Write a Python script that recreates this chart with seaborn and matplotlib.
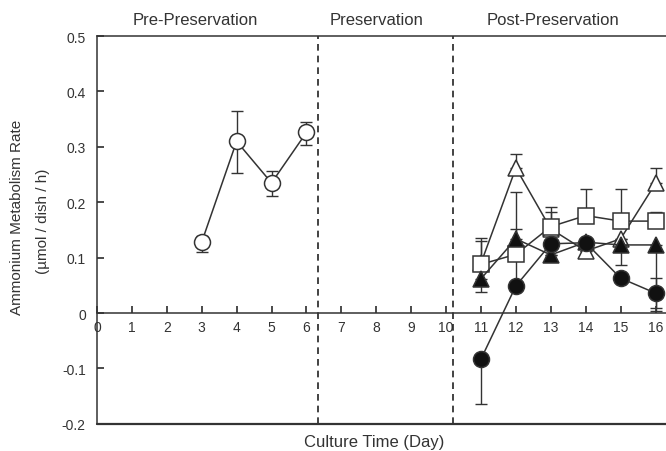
import matplotlib
matplotlib.use("Agg")
import matplotlib.pyplot as plt
import matplotlib.ticker as mticker
import pandas as pd
import seaborn as sns

# Pre-preservation culture (open circles)
pre_days = [3, 4, 5, 6]
pre_rate = [0.128, 0.310, 0.235, 0.326]
pre_err_lo = [0.018, 0.057, 0.024, 0.022]
pre_err_hi = [0.012, 0.055, 0.022, 0.018]

# Post-preservation culture, four groups
post_days = [11, 12, 13, 14, 15, 16]
open_tri = [0.090, 0.262, 0.152, 0.112, 0.134, 0.234]
open_tri_lo = [0, 0, 0, 0, 0, 0]
open_tri_hi = [0.040, 0.025, 0.030, 0, 0, 0.028]

open_sq = [0.088, 0.106, 0.156, 0.176, 0.166, 0.166]
open_sq_lo = [0, 0.055, 0, 0, 0, 0]
open_sq_hi = [0.048, 0.112, 0.036, 0.048, 0.058, 0.016]

filled_tri = [0.062, 0.134, 0.105, 0.128, 0.123, 0.123]
filled_tri_lo = [0.024, 0, 0, 0, 0.036, 0.114]
filled_tri_hi = [0, 0.018, 0, 0, 0, 0]

filled_circ = [-0.083, 0.049, 0.125, 0.127, 0.063, 0.036]
filled_circ_lo = [0.081, 0, 0, 0, 0, 0.032]
filled_circ_hi = [0, 0, 0, 0, 0, 0.028]

x_ticks = list(range(0, 17))
y_ticks = [-0.2, -0.1, 0, 0.1, 0.2, 0.3, 0.4, 0.5]
y_tick_labels = ["-0.2", "-0.1", "0", "0.1", "0.2", "0.3", "0.4", "0.5"]
phases = ["Pre-Preservation", "Preservation", "Post-Preservation"]
phase_bounds = [6.33, 10.2]

sns.set_theme(style="ticks")
plt.rcParams["font.family"] = ["Liberation Sans", "DejaVu Sans"]

ink = "#333333"
fig = plt.figure(figsize=(6.66, 4.52), dpi=100)
ax = fig.add_axes([0.1456, 0.06, 0.8544, 0.858])

series = [
    (pre_days, pre_rate, pre_err_lo, pre_err_hi, "o", "white", 11.5),
    (post_days, open_tri, open_tri_lo, open_tri_hi, "^", "white", 12),
    (post_days, open_sq, open_sq_lo, open_sq_hi, "s", "white", 11),
    (post_days, filled_tri, filled_tri_lo, filled_tri_hi, "^", "#111111", 12),
    (post_days, filled_circ, filled_circ_lo, filled_circ_hi, "o", "#111111", 11.5),
]

for i, (xs, ys, lo, hi, mk, fc, ms) in enumerate(series):
    ax.errorbar(xs, ys, yerr=[lo, hi], fmt="none", ecolor=ink,
                elinewidth=1.0, capsize=4, capthick=1.0, zorder=2 + i)
    df = pd.DataFrame({"day": xs, "rate": ys})
    sns.lineplot(data=df, x="day", y="rate", ax=ax, color=ink, linewidth=1.1,
                 marker=mk, markersize=ms, markerfacecolor=fc,
                 markeredgecolor=ink, markeredgewidth=1.1, zorder=3 + i)

for xb in phase_bounds:
    ax.axvline(xb, color="#222222", linestyle=(0, (4, 3)), linewidth=1.2, zorder=1)

ax.set_xlim(0, 16.3)
ax.set_ylim(-0.2, 0.5)

ax.spines["bottom"].set_position(("data", 0))
ax.spines["right"].set_visible(False)
for s in ["left", "top", "bottom"]:
    ax.spines[s].set_color(ink)
    ax.spines[s].set_linewidth(1.1)
ax.axhline(-0.2, color=ink, linewidth=1.6, clip_on=False)

ax.set_xticks(x_ticks)
ax.set_xticklabels([str(v) for v in x_ticks])
ax.set_yticks(y_ticks)
ax.yaxis.set_major_formatter(mticker.FixedFormatter(y_tick_labels))
ax.tick_params(axis="x", direction="in", length=5, color=ink, labelcolor=ink,
               labelsize=10, pad=5)
ax.tick_params(axis="y", direction="in", length=5, color=ink, labelcolor=ink,
               labelsize=10, pad=8)
ax.set_xlabel("")
ax.set_ylabel("")

fig.text(0.293, 0.955, phases[0], ha="center", va="center", fontsize=12, color=ink)
fig.text(0.566, 0.955, phases[1], ha="center", va="center", fontsize=12, color=ink)
fig.text(0.830, 0.955, phases[2], ha="center", va="center", fontsize=12, color=ink)

fig.text(0.562, 0.020, "Culture Time (Day)", ha="center", va="center",
         fontsize=12, color=ink)
fig.text(0.026, 0.518, "Ammonium Metabolism Rate", rotation=90, ha="center",
         va="center", fontsize=11, color=ink)
fig.text(0.064, 0.510, "(µmol / dish / h)", rotation=90, ha="center",
         va="center", fontsize=11, color=ink)

fig.savefig("out.png", dpi=100, facecolor="white")
